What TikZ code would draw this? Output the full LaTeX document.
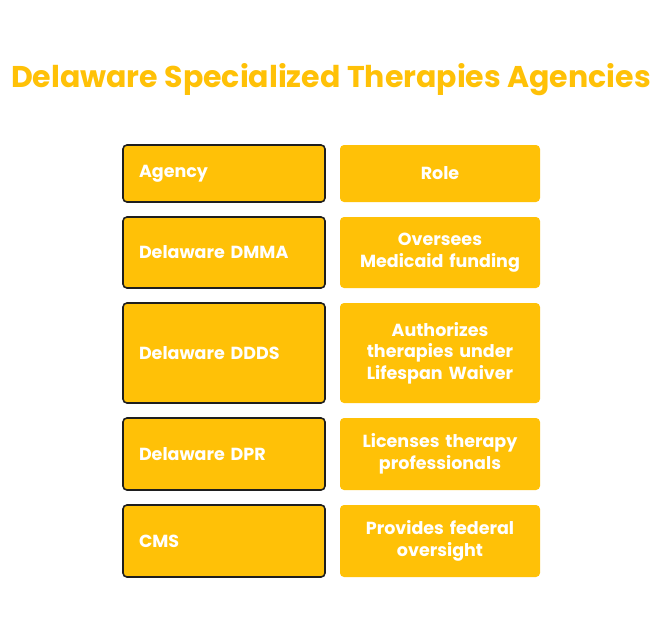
\documentclass[tikz,border=0pt]{standalone}
\usepackage{fontspec}
\setmainfont{Poppins}
\usetikzlibrary{positioning}
\definecolor{agyellow}{HTML}{FFC107}
\definecolor{agline}{HTML}{1E1E1E}
\begin{document}
\begin{tikzpicture}[x=1pt,y=-1pt,
  cell/.style={fill=agyellow,rounded corners=4pt,text=white,font=\bfseries\fontsize{17.5}{21.5}\selectfont},
  agency/.style={cell,draw=agline,line width=1.6pt,minimum width=202pt,text width=170pt,inner xsep=16pt,align=left},
  role/.style={cell,minimum width=200pt,text width=190pt,inner xsep=5pt,align=center}]
\useasboundingbox (0,0) rectangle (662,635);
% title
\node[text=agyellow,font=\bfseries\fontsize{30}{34}\selectfont] (title) at (331,80) {Delaware Specialized Therapies Agencies};
% agencies
\node[agency,minimum height=57pt] (a1) at (224,173.5) {Agency};
\node[agency,minimum height=71pt] (a2) at (224,252.5) {Delaware DMMA};
\node[agency,minimum height=100pt] (a3) at (224,353) {Delaware DDDS};
\node[agency,minimum height=72pt] (a4) at (224,454) {Delaware DPR};
\node[agency,minimum height=72pt] (a5) at (224,541) {CMS};
% roles
\node[role,minimum height=57pt] (r1) at (440,173.5) {Role};
\node[role,minimum height=71pt] (r2) at (440,252.5) {Oversees\\Medicaid funding};
\node[role,minimum height=100pt] (r3) at (440,353) {Authorizes\\therapies under\\Lifespan Waiver};
\node[role,minimum height=72pt] (r4) at (440,454) {Licenses therapy\\professionals};
\node[role,minimum height=72pt] (r5) at (440,541) {Provides federal\\oversight};
\end{tikzpicture}
\end{document}
